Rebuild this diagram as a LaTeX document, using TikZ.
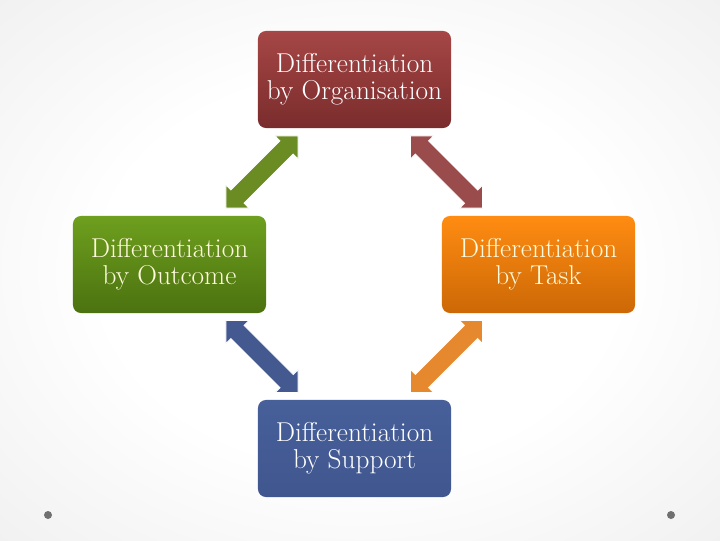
\documentclass[tikz,border=0pt]{standalone}
\usetikzlibrary{calc}
\definecolor{bgout}{HTML}{D4D4D4}
\definecolor{redtop}{HTML}{A64646}
\definecolor{redbot}{HTML}{7A2C2C}
\definecolor{grntop}{HTML}{6E9F1E}
\definecolor{grnbot}{HTML}{4B7210}
\definecolor{orgtop}{HTML}{FF8C12}
\definecolor{orgbot}{HTML}{CC6806}
\definecolor{blutop}{HTML}{47609A}
\definecolor{blubot}{HTML}{40568F}
\definecolor{arrgrn}{HTML}{6A8C22}
\definecolor{arrred}{HTML}{9A4B4B}
\definecolor{arrblu}{HTML}{44598F}
\definecolor{arrorg}{HTML}{E6892E}
\definecolor{cream}{HTML}{FFFBDC}
\definecolor{dotgray}{HTML}{707070}
\pgfdeclareradialshading{bgshade}{\pgfpoint{0bp}{0bp}}{color(0bp)=(white); color(18bp)=(white); color(72bp)=(bgout)}
\tikzset{
  box/.style={rectangle, rounded corners=0.2cm, minimum width=4.825cm, minimum height=2.425cm,
    align=center, inner sep=0pt, font=\fontsize{19.4}{19.4}\selectfont},
  dblarr/.style={fill=#1, draw=white, line width=0.6pt, line join=miter}
}
\newcommand\dblarrow[4]{% color, node a, node b, angle
  \begin{scope}[shift={($(#2)!0.5!(#3)$)}, rotate=#4]
    \path[dblarr=#1] (-51,0) -- (-34.75,16.25) -- (-34.75,9.3) -- (34.75,9.3) -- (34.75,16.25)
      -- (51,0) -- (34.75,-16.25) -- (34.75,-9.3) -- (-34.75,-9.3) -- (-34.75,-16.25) -- cycle;
  \end{scope}}
\begin{document}
\begin{tikzpicture}[x=0.025cm, y=-0.025cm]
\useasboundingbox (0,0) rectangle (720,540);
\shade[shading=bgshade] (0,0) rectangle (720,540);
\node[box, top color=redtop, bottom color=redbot, text=white] (top) at (354.5,79.5) {Differentiation\\by Organisation};
\node[box, top color=grntop, bottom color=grnbot, text=cream] (left) at (169.5,264.5) {Differentiation\\by Outcome};
\node[box, top color=orgtop, bottom color=orgbot, text=cream] (right) at (538.5,264.5) {Differentiation\\by Task};
\node[box, top color=blutop, bottom color=blubot, text=white] (bot) at (354.5,448.5) {Differentiation\\by Support};
\dblarrow{arrgrn}{top}{left}{45}
\dblarrow{arrred}{top}{right}{-45}
\dblarrow{arrblu}{left}{bot}{-45}
\dblarrow{arrorg}{right}{bot}{45}
\fill[dotgray] (48,515) circle (4);
\fill[dotgray] (671,515) circle (4);
\end{tikzpicture}
\end{document}
